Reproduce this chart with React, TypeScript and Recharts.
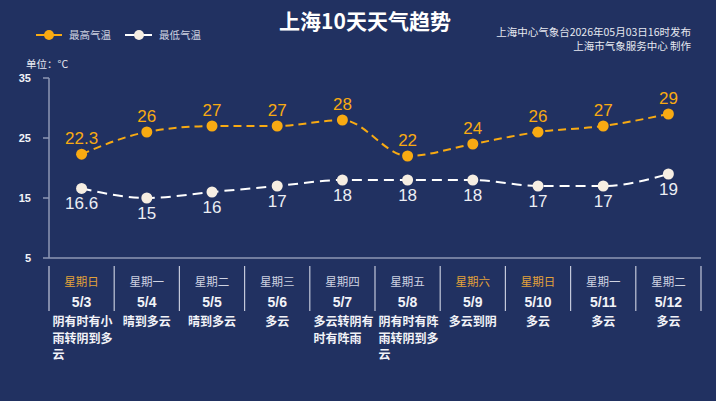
import React from 'react';
import { LineChart, Line, XAxis, YAxis, LabelList } from 'recharts';

const weekdays = ['星期日', '星期一', '星期二', '星期三', '星期四', '星期五', '星期六', '星期日', '星期一', '星期二'];
const dates = ['5/3', '5/4', '5/5', '5/6', '5/7', '5/8', '5/9', '5/10', '5/11', '5/12'];
const weather = ['阴有时有小雨转阴到多云', '晴到多云', '晴到多云', '多云', '多云转阴有时有阵雨', '阴有时有阵雨转阴到多云', '多云到阴', '多云', '多云', '多云'];
const highTemps = [22.3, 26, 27, 27, 28, 22, 24, 26, 27, 29];
const lowTemps = [16.6, 15, 16, 17, 18, 18, 18, 17, 17, 19];
const yTicks = [5, 15, 25, 35];

const data = dates.map((d, i) => ({
  date: d,
  weekday: weekdays[i],
  weather: weather[i],
  high: highTemps[i],
  low: lowTemps[i],
}));

const BG = '#213161';
const ORANGE = '#f8aa12';
const LOWDOT = '#f6eee2';
const AXIS = '#8e97b5';
const FONT = '"Noto Sans CJK SC", "Noto Sans", sans-serif';
const NUMFONT = '"Liberation Sans", "Noto Sans CJK SC", sans-serif';

const BAND = 65.2;

const XTick = (props: any) => {
  const { x, y, index } = props;
  const wd = weekdays[index];
  const weekend = wd === '星期日' || wd === '星期六';
  const w = weather[index];
  const lines: string[] = [];
  for (let i = 0; i < w.length; i += 5) lines.push(w.slice(i, i + 5));
  const multi = lines.length > 1;
  return (
    <g>
      <line x1={x + BAND / 2} y1={y} x2={x + BAND / 2} y2={y + 45} stroke="#c3c8da" strokeWidth={1.2} />
      {index === 0 && <line x1={x - BAND / 2} y1={y} x2={x - BAND / 2} y2={y + 45} stroke="#c3c8da" strokeWidth={1.2} />}
      <text x={x} y={y + 20} textAnchor="middle" fontSize={11.5} fill={weekend ? '#e3a23a' : '#cfd3e2'} fontFamily={FONT}>
        {wd}
      </text>
      <text x={x} y={y + 41} textAnchor="middle" fontSize={14} fontWeight="bold" fill="#f2f3f8" fontFamily={NUMFONT}>
        {dates[index]}
      </text>
      {lines.map((l, i) => (
        <text
          key={i}
          x={multi ? x - 29 : x}
          y={y + 60 + i * 16.5}
          textAnchor={multi ? 'start' : 'middle'}
          fontSize={12}
          fontWeight="bold"
          fill="#f2f3f8"
          fontFamily={FONT}
        >
          {l}
        </text>
      ))}
    </g>
  );
};

const YTick = (props: any) => {
  const { x, y, payload } = props;
  return (
    <text x={x - 10} y={y + 4} textAnchor="end" fontSize={11} fontWeight="bold" fill="#f2f3f8" fontFamily={NUMFONT}>
      {payload.value}
    </text>
  );
};

const HighLabel = (props: any) => {
  const { x, y, value } = props;
  return (
    <text x={x} y={y - 10} textAnchor="middle" fontSize={17} fill={ORANGE} fontFamily={NUMFONT}>
      {value}
    </text>
  );
};

const LowLabel = (props: any) => {
  const { x, y, value } = props;
  return (
    <text x={x} y={y + 21} textAnchor="middle" fontSize={17} fill="#eceef4" fontFamily={NUMFONT}>
      {value}
    </text>
  );
};

export default function App() {
  return (
    <div style={{ position: 'absolute', left: 0, top: 0, width: 716, height: 401, background: BG, overflow: 'hidden' }}>
      <svg width={716} height={401} style={{ position: 'absolute', left: 0, top: 0 }}>
        <text x={365} y={29} textAnchor="middle" fontSize={21} fontWeight="bold" fill="#ffffff" fontFamily={FONT}>
          上海10天天气趋势
        </text>
        <text x={691} y={36} textAnchor="end" fontSize={10.5} fill="#e6e8f0" fontFamily={FONT}>
          上海中心气象台2026年05月03日16时发布
        </text>
        <text x={691} y={50} textAnchor="end" fontSize={10.5} fill="#e6e8f0" fontFamily={FONT}>
          上海市气象服务中心 制作
        </text>
        <line x1={36} y1={35} x2={62} y2={35} stroke={ORANGE} strokeWidth={2} />
        <circle cx={49} cy={35} r={5} fill={ORANGE} />
        <text x={69} y={39} fontSize={10.5} fill="#cdd1e0" fontFamily={FONT}>最高气温</text>
        <line x1={125} y1={35} x2={152} y2={35} stroke="#ffffff" strokeWidth={2} />
        <circle cx={139} cy={35} r={5} fill={LOWDOT} />
        <text x={159} y={39} fontSize={10.5} fill="#cdd1e0" fontFamily={FONT}>最低气温</text>
        <text x={26} y={68} fontSize={10.5} fill="#e6e8f0" fontFamily={FONT}>单位：°C</text>
      </svg>
      <div style={{ position: 'absolute', left: 0, top: 0 }}>
        <LineChart width={716} height={401} data={data} margin={{ top: 78, right: 15, bottom: 43, left: 0 }}>
          <XAxis
            dataKey="date"
            height={100}
            axisLine={{ stroke: AXIS, strokeWidth: 1.5 }}
            tickLine={false}
            interval={0}
            padding={{ left: BAND / 2, right: BAND / 2 }}
            tick={<XTick />}
          />
          <YAxis
            width={49}
            domain={[5, 35]}
            ticks={yTicks}
            allowDataOverflow
            axisLine={{ stroke: AXIS, strokeWidth: 1.5 }}
            tickLine={{ stroke: AXIS, strokeWidth: 1.5 }}
            tickSize={6}
            tick={<YTick />}
          />
          <Line
            type="monotone"
            dataKey="high"
            stroke={ORANGE}
            strokeWidth={2}
            strokeDasharray="8 5"
            dot={{ r: 5.5, fill: ORANGE, stroke: ORANGE, strokeWidth: 0, strokeDasharray: '' }}
            isAnimationActive={false}
          >
            <LabelList dataKey="high" content={<HighLabel />} />
          </Line>
          <Line
            type="monotone"
            dataKey="low"
            stroke="#ffffff"
            strokeWidth={2}
            strokeDasharray="10 6"
            dot={{ r: 5.5, fill: LOWDOT, stroke: LOWDOT, strokeWidth: 0, strokeDasharray: '' }}
            isAnimationActive={false}
          >
            <LabelList dataKey="low" content={<LowLabel />} />
          </Line>
        </LineChart>
      </div>
    </div>
  );
}
